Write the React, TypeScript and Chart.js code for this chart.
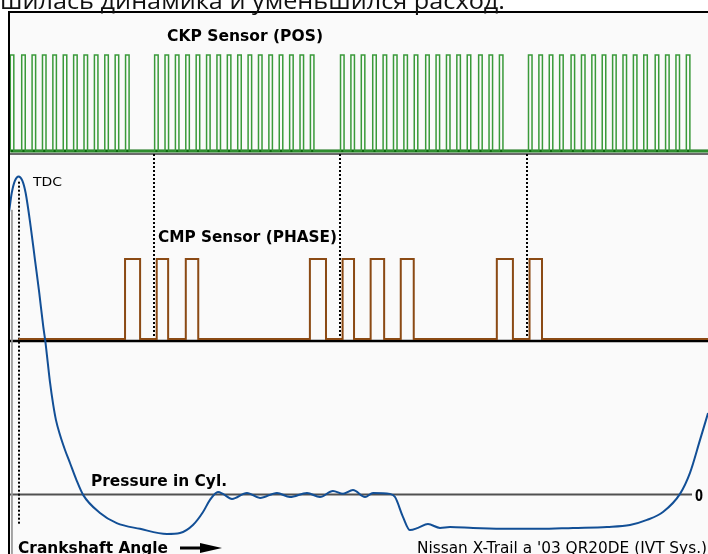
import React, { useEffect, useRef } from "react";
import { Chart, registerables } from "chart.js";

Chart.register(...registerables);

// ---------- DATA (crank angle in degrees, TDC = 0) ----------
// CKP (POS) sensor: rising edge of each tooth pulse, grouped by 180° sector
const CKP_TEETH_G1 = [-8, 3, 13, 23, 33, 43, 53, 63, 73, 83, 93, 103];
const CKP_TEETH_G2 = [131, 141, 151, 161, 171, 181, 191, 201, 211, 221, 231, 241, 251, 261, 271, 281];
const CKP_TEETH_G3 = [310, 320, 330, 341, 351, 361, 371, 381, 392, 402, 412, 422, 432, 443, 453, 463];
const CKP_TEETH_G4 = [491, 501, 511, 521, 532, 542, 552, 562, 572, 582, 592, 602, 613, 623, 633, 643];
const CKP_TOOTH_WIDTH_DEG = 3.4;
const CKP_HIGH_V = 5;
const CKP_LOW_V = 0;

// CMP (PHASE) sensor: pulse start / end angles
const CMP_PULSE_START = [102.5, 133, 161, 280.5, 312, 339, 368, 460.5, 492];
const CMP_PULSE_END = [117, 144, 173, 296, 323, 352, 380.5, 476, 504];
const CMP_HIGH_V = 5;
const CMP_LOW_V = 0;
const CMP_TRACE_START = 0;

// Cylinder pressure (% of compression peak)
const PRESSURE_DEG = [
  -9.2, -6.6, -3.5, 0, 3.6, 6.8, 11.7, 15.8, 19.9, 23.8, 25.7, 28.0, 30.2, 33.4, 36.0, 39.9, 44.7,
  49.5, 55.3, 62.3, 78.4, 94.5, 116.9, 142.9, 155.4, 167.9, 177.6, 184.3, 192.0, 196.8, 205.5, 219.9,
  232.5, 248.8, 261.3, 277.7, 290.2, 302.7, 312.4, 322.0, 333.6, 341.3, 357.6, 362.5, 370.2,
  376.9, 384.6, 394.2, 405.8, 415.4, 437.6, 470.3, 502.1, 533.9, 566.6, 588.7, 605.1, 620.5,
  636.9, 646.5, 656.1, 663.9,
];
const PRESSURE_VAL = [
  88.8, 94.8, 98.7, 100, 98.7, 94.8, 84.1, 73.7, 63.4, 52.7, 48.3, 41.7, 35.4, 28.1, 23.4, 18.7, 14.0,
  9.9, 4.9, -0.2, -5.8, -9.0, -10.8, -12.4, -12.1, -9.6, -5.5, -1.7, 0.8, 0.2, -1.4, 0.5,
  -1.1, 0.5, -0.8, 0.5, -0.8, 1.1, 0.2, 1.4, -0.8, 0.5, 0.2, -0.8, -7.1,
  -11.2, -10.5, -9.3, -10.5, -10.2, -10.5, -10.8, -10.8, -10.5, -10.2, -9.6, -8.0, -5.5,
  0.2, 6.8, 17.1, 25.6,
];
// faint trace at the left edge
const LEFT_TRACE_DEG = [-6.4, -6.4];
const LEFT_TRACE_VAL = [89.5, -18.7];

// reference marks
const TDC_DEG = 0;
const SYNC_MARKS_DEG = [130.5, 309.5, 489.5];

// ---------- LAYOUT ----------
const W = 708;
const H = 554;
const AREA = { left: 8, top: 12, right: 708, bottom: 554 };
const X_MIN = -10.2;
const X_MAX = 663.85;
const SEP1_Y = 154;
const SEP2_Y = 341;

function axisRange(v1: number, p1: number, v2: number, p2: number) {
  const ppu = (p1 - p2) / (v2 - v1);
  return { min: v1 - (AREA.bottom - p1) / ppu, max: v2 + (p2 - AREA.top) / ppu };
}
const CKP_RANGE = axisRange(CKP_LOW_V, 151, CKP_HIGH_V, 55);
const CMP_RANGE = axisRange(CMP_LOW_V, 339, CMP_HIGH_V, 259);
const P_RANGE = axisRange(0, 494.5, 100, 176.5);

function ckpPoints() {
  const teeth = [...CKP_TEETH_G1, ...CKP_TEETH_G2, ...CKP_TEETH_G3, ...CKP_TEETH_G4];
  const pts: { x: number; y: number }[] = [{ x: teeth[0], y: CKP_LOW_V }];
  teeth.forEach((r) => {
    pts.push({ x: r, y: CKP_LOW_V }, { x: r, y: CKP_HIGH_V });
    pts.push({ x: r + CKP_TOOTH_WIDTH_DEG, y: CKP_HIGH_V }, { x: r + CKP_TOOTH_WIDTH_DEG, y: CKP_LOW_V });
  });
  pts.push({ x: X_MAX + 5, y: CKP_LOW_V });
  return pts;
}

function cmpPoints() {
  const pts: { x: number; y: number }[] = [{ x: CMP_TRACE_START, y: CMP_LOW_V }];
  CMP_PULSE_START.forEach((s, i) => {
    const e = CMP_PULSE_END[i];
    pts.push({ x: s, y: CMP_LOW_V }, { x: s, y: CMP_HIGH_V }, { x: e, y: CMP_HIGH_V }, { x: e, y: CMP_LOW_V });
  });
  pts.push({ x: X_MAX + 5, y: CMP_LOW_V });
  return pts;
}

function drawFitted(
  ctx: CanvasRenderingContext2D,
  text: string,
  left: number,
  right: number,
  baseline: number,
  size: number,
  weight: string,
  family: string,
  color = "#000"
) {
  ctx.save();
  ctx.font = `${weight} ${size}px ${family}`;
  const w = ctx.measureText(text).width;
  const sx = (right - left) / w;
  ctx.translate(left, baseline);
  ctx.scale(sx, 1);
  ctx.fillStyle = color;
  ctx.textAlign = "left";
  ctx.textBaseline = "alphabetic";
  ctx.fillText(text, 0, 0);
  ctx.restore();
}

const LABEL_FONT = "'DejaVu Sans', sans-serif";

const decorPlugin = {
  id: "decor",
  beforeDraw(chart: any) {
    const ctx = chart.ctx as CanvasRenderingContext2D;
    ctx.save();
    ctx.fillStyle = "#ffffff";
    ctx.fillRect(0, 0, W, H);
    ctx.fillStyle = "#fafafa";
    ctx.fillRect(AREA.left, AREA.top, AREA.right - AREA.left, AREA.bottom - AREA.top);
    ctx.restore();
  },
  beforeDatasetsDraw(chart: any) {
    const ctx = chart.ctx as CanvasRenderingContext2D;
    const xs = chart.scales.x;
    const yP = chart.scales.yP;
    ctx.save();
    // panel separators
    ctx.strokeStyle = "#3a3a3a";
    ctx.lineWidth = 1.5;
    ctx.beginPath();
    ctx.moveTo(AREA.left, SEP1_Y);
    ctx.lineTo(AREA.right, SEP1_Y);
    ctx.stroke();
    ctx.strokeStyle = "#000";
    ctx.lineWidth = 2.5;
    ctx.beginPath();
    ctx.moveTo(AREA.left, SEP2_Y);
    ctx.lineTo(AREA.right, SEP2_Y);
    ctx.stroke();
    // zero line of pressure
    const y0 = yP.getPixelForValue(0);
    ctx.strokeStyle = "#505050";
    ctx.lineWidth = 2;
    ctx.beginPath();
    ctx.moveTo(AREA.left, y0);
    ctx.lineTo(692, y0);
    ctx.stroke();
    // dotted markers
    ctx.strokeStyle = "#000";
    ctx.lineWidth = 2;
    ctx.setLineDash([2, 2]);
    SYNC_MARKS_DEG.forEach((d) => {
      const x = Math.round(xs.getPixelForValue(d));
      ctx.beginPath();
      ctx.moveTo(x, SEP1_Y);
      ctx.lineTo(x, SEP2_Y - 2);
      ctx.stroke();
    });
    const xt = Math.round(xs.getPixelForValue(TDC_DEG));
    ctx.beginPath();
    ctx.moveTo(xt, yP.getPixelForValue(99) + 2);
    ctx.lineTo(xt, 524);
    ctx.stroke();
    ctx.restore();
  },
  afterDatasetsDraw(chart: any) {
    const ctx = chart.ctx as CanvasRenderingContext2D;
    ctx.save();
    // frame
    ctx.strokeStyle = "#000";
    ctx.lineWidth = 2;
    ctx.beginPath();
    ctx.moveTo(AREA.right, AREA.top);
    ctx.lineTo(AREA.left + 1, AREA.top);
    ctx.lineTo(AREA.left + 1, AREA.bottom);
    ctx.stroke();
    ctx.restore();

    // heading text (cut off page text)
    drawFitted(ctx, "шилась динамика и уменьшился расход.", 0, 505, 9, 23, "normal", "'Open Sans', sans-serif", "#111");

    drawFitted(ctx, "CKP Sensor (POS)", 167, 323, 41, 15.5, "bold", LABEL_FONT);
    drawFitted(ctx, "TDC", 33, 62, 186, 13, "normal", LABEL_FONT);
    drawFitted(ctx, "CMP Sensor (PHASE)", 158, 337, 242, 16, "bold", LABEL_FONT);
    drawFitted(ctx, "Pressure in Cyl.", 91, 227, 486, 16.5, "bold", LABEL_FONT);
    drawFitted(ctx, "0", 695, 703, 501, 15.5, "bold", LABEL_FONT);
    drawFitted(ctx, "Crankshaft Angle", 18, 168, 553, 16.5, "bold", LABEL_FONT);
    drawFitted(ctx, "Nissan X-Trail a '03 QR20DE (IVT Sys.)", 417, 707, 553, 15.5, "normal", LABEL_FONT);

    // arrow
    ctx.save();
    ctx.strokeStyle = "#000";
    ctx.fillStyle = "#000";
    ctx.lineWidth = 3;
    ctx.beginPath();
    ctx.moveTo(180, 548);
    ctx.lineTo(203, 548);
    ctx.stroke();
    ctx.beginPath();
    ctx.moveTo(200, 543);
    ctx.lineTo(222, 548);
    ctx.lineTo(200, 553);
    ctx.closePath();
    ctx.fill();
    ctx.restore();
  },
};

export default function App() {
  const ref = useRef<HTMLCanvasElement>(null);
  useEffect(() => {
    if (!ref.current) return;
    const chart = new Chart(ref.current, {
      type: "line",
      data: {
        datasets: [
          {
            label: "Pressure in Cyl.",
            data: PRESSURE_DEG.map((x, i) => ({ x, y: PRESSURE_VAL[i] })),
            yAxisID: "yP",
            borderColor: "#124f96",
            borderWidth: 2,
            pointRadius: 0,
            cubicInterpolationMode: "monotone",
          },
          {
            label: "left trace",
            data: LEFT_TRACE_DEG.map((x, i) => ({ x, y: LEFT_TRACE_VAL[i] })),
            yAxisID: "yP",
            borderColor: "#9a9a9a",
            borderWidth: 1,
            pointRadius: 0,
          },
          {
            label: "CMP Sensor (PHASE)",
            data: cmpPoints(),
            yAxisID: "yCmp",
            borderColor: "#8b4a14",
            borderWidth: 2,
            pointRadius: 0,
            tension: 0,
          },
          {
            label: "CKP Sensor (POS)",
            data: ckpPoints(),
            yAxisID: "yCkp",
            borderColor: "#3a9a3a",
            borderWidth: 1.5,
            pointRadius: 0,
            tension: 0,
          },
          {
            label: "CKP base",
            data: [
              { x: CKP_TEETH_G1[0], y: CKP_LOW_V },
              { x: X_MAX + 5, y: CKP_LOW_V },
            ],
            yAxisID: "yCkp",
            borderColor: "#0c6a0c",
            borderWidth: 3,
            pointRadius: 0,
          },
        ],
      },
      options: {
        animation: false,
        responsive: false,
        devicePixelRatio: 1,
        parsing: true,
        layout: { padding: { left: AREA.left, top: AREA.top, right: W - AREA.right, bottom: H - AREA.bottom } },
        plugins: { legend: { display: false }, tooltip: { enabled: false } },
        events: [],
        scales: {
          x: { type: "linear", min: X_MIN, max: X_MAX, display: false },
          yCkp: { type: "linear", min: CKP_RANGE.min, max: CKP_RANGE.max, display: false },
          yCmp: { type: "linear", min: CMP_RANGE.min, max: CMP_RANGE.max, display: false },
          yP: { type: "linear", min: P_RANGE.min, max: P_RANGE.max, display: false },
        },
      },
      plugins: [decorPlugin],
    } as any);
    return () => chart.destroy();
  }, []);
  return (
    <div style={{ position: "absolute", left: 0, top: 0, width: W, height: H, overflow: "hidden" }}>
      <canvas ref={ref} width={W} height={H} style={{ display: "block", width: W, height: H }} />
    </div>
  );
}
